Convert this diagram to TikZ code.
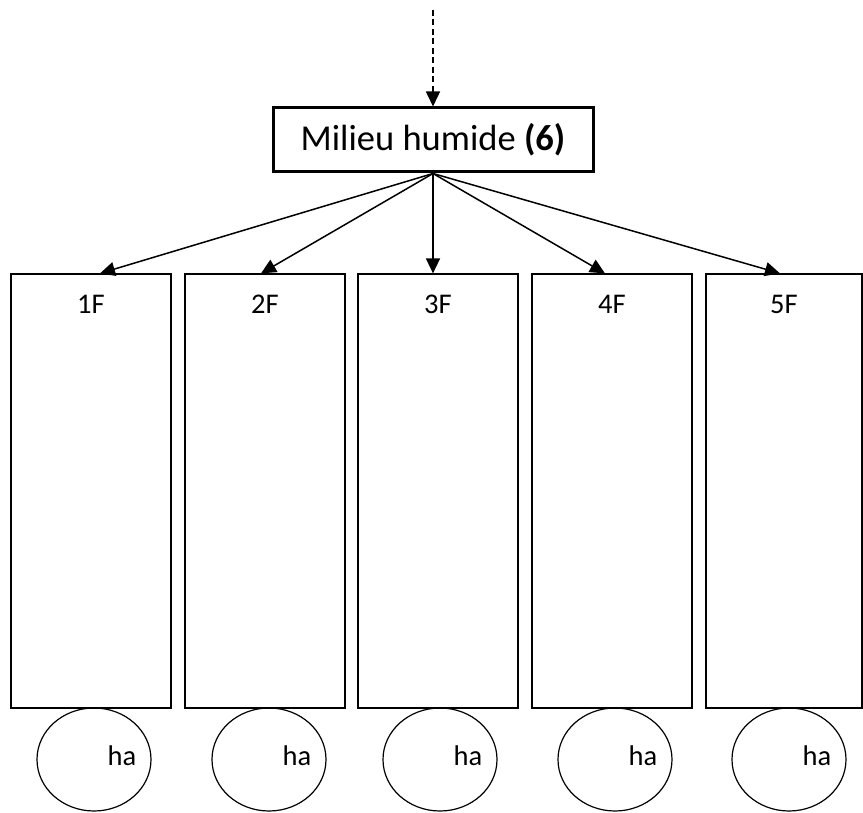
\documentclass[tikz,border=0pt]{standalone}
\usepackage{fontspec}
\setmainfont{Carlito}
\usetikzlibrary{shapes.geometric, arrows.meta}
\tikzstyle{milieu} = [rectangle, draw=black, line width=3pt, minimum width=320pt, minimum height=64pt, text centered, font=\fontsize{36.5}{40}\selectfont]
\tikzstyle{parcelle} = [rectangle, draw=black, line width=1.2pt, minimum width=160pt, minimum height=434pt]
\tikzstyle{surface} = [ellipse, draw=black, line width=1.2pt, minimum width=114pt, minimum height=103pt, inner sep=0pt]
\tikzstyle{arrow} = [line width=1.5pt, -{Triangle[length=15pt,width=14pt]}]
\tikzstyle{dasharrow} = [arrow, dash pattern=on 6pt off 3.5pt]

\begin{document}
\begin{tikzpicture}[x=1pt, y=-1pt, every label/.style={font=\fontsize{28.5}{32}\selectfont}]
        \useasboundingbox (0,0) rectangle (863,813);
        \coordinate (amont) at (433,10);
        \node (mh) [milieu] at (433,140) {Milieu humide \textbf{(6)}};
        \node (f1) [parcelle, label={[anchor=center, yshift=-31pt]north:1F}] at (91,491) {};
        \node (f2) [parcelle, label={[anchor=center, yshift=-31pt]north:2F}] at (265,491) {};
        \node (f3) [parcelle, label={[anchor=center, yshift=-31pt]north:3F}] at (438,491) {};
        \node (f4) [parcelle, label={[anchor=center, yshift=-31pt]north:4F}] at (612,491) {};
        \node (f5) [parcelle, minimum width=156pt, label={[anchor=center, yshift=-31pt]north:5F}] at (784,491) {};
        \node (ha1) [surface, label={[xshift=28pt, yshift=4pt]center:ha}] at (94,759.5) {};
        \node (ha2) [surface, label={[xshift=28pt, yshift=4pt]center:ha}] at (269,759.5) {};
        \node (ha3) [surface, label={[xshift=28pt, yshift=4pt]center:ha}] at (440,759.5) {};
        \node (ha4) [surface, label={[xshift=28pt, yshift=4pt]center:ha}] at (615,759.5) {};
        \node (ha5) [surface, label={[xshift=28pt, yshift=4pt]center:ha}] at (789,759.5) {};
        \draw [dasharrow] (amont) -- (mh.north);
        \draw [arrow] (mh.south) -- ([xshift=9pt]f1.north);
        \draw [arrow] (mh.south) -- ([xshift=-4pt]f2.north);
        \draw [arrow] (mh.south) -- ([xshift=-5pt]f3.north);
        \draw [arrow] (mh.south) -- ([xshift=-7pt]f4.north);
        \draw [arrow] (mh.south) -- ([xshift=-4pt]f5.north);
      \end{tikzpicture}
\end{document}
